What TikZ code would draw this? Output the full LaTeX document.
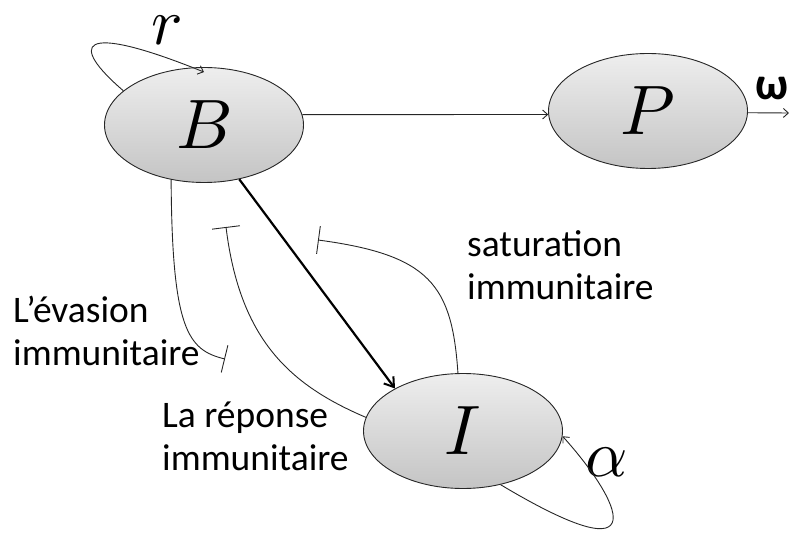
\documentclass[tikz,border=0pt]{standalone}
\usepackage{fontspec}
\usepackage{unicode-math}
\setmainfont{Carlito}
\usetikzlibrary{arrows.meta,shapes.geometric}
\definecolor{topg}{RGB}{238,238,238}
\definecolor{botg}{RGB}{196,196,196}
\tikzset{
  state/.style={ellipse, draw=black!85, line width=0.9pt, top color=topg, bottom color=botg,
    minimum width=199pt, minimum height=115pt, inner sep=0pt, font=\fontsize{70}{70}\selectfont},
  conn/.style={line width=0.9pt, draw=black!85},
  tipo/.style={-{Straight Barb[length=5pt,width=9pt]}},
  inhib/.style={-{Bar[width=28pt,line width=0.9pt]}},
  lbl/.style={anchor=base west, align=left, inner sep=0pt, font=\fontsize{37.5}{43}\selectfont},
  sym/.style={inner sep=0pt, font=\fontsize{66}{66}\selectfont}
}
\begin{document}
\begin{tikzpicture}[x=1pt,y=-1pt]
\useasboundingbox (0,0) rectangle (789,534);
\node[state] (B) at (204,125) {$B$};
\node[state] (P) at (648,111) {$P$};
\node[state] (I) at (463,431) {$I$};
% labels
\node[sym] (r) at (167,30) {$r$};
\node[sym] (al) at (607,462) {$\alpha$};
\node[inner sep=0pt, font=\fontsize{46}{46}\selectfont\bfseries] (om) at (772,89) {ω};
\node[lbl] (ev) at (13,365) {L’évasion\\immunitaire};
\node[lbl] (rep) at (162,470) {La réponse\\immunitaire};
\node[lbl] (sat) at (467,300) {saturation\\immunitaire};
% free ends
\coordinate (omEnd) at (789,113);
\coordinate (evEnd) at (225,359);
\coordinate (repEnd) at (226,227);
\coordinate (satEnd) at (318,240);
% connectors
\draw[conn,tipo] (B.6) -- (P.182);
\draw[conn,tipo] (P.-1) -- (omEnd);
\draw[conn,tipo] (B.157) .. controls (70,45) and (75,20) .. ([yshift=-5pt]B.north);
\draw[line width=2.2pt, -{Straight Barb[length=9pt,width=12pt,line width=2pt]}] (B.-57) -- (I.148);
\draw[conn,inhib] (B.-121) .. controls (172,330) and (188,350) .. (evEnd);
\draw[conn,inhib] (I.172) .. controls (290,385) and (240,340) .. (repEnd);
\draw[conn,inhib] (I.95) .. controls (452,285) and (430,255) .. (satEnd);
\draw[conn,tipo] (I.-55) .. controls (660,580) and (620,500) .. (I.-3);
\end{tikzpicture}
\end{document}
